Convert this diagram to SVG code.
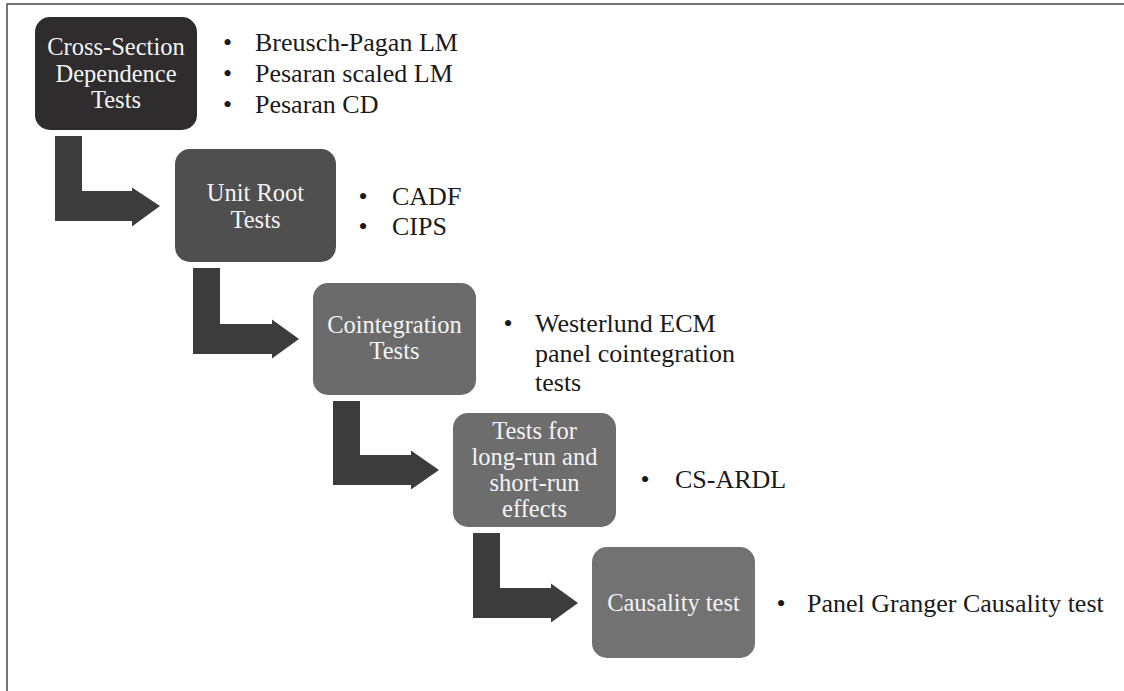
<svg xmlns="http://www.w3.org/2000/svg" width="1124" height="691" viewBox="0 0 1124 691">
<style>
text{font-family:'Liberation Serif','DejaVu Serif',serif}
.bt{font-size:24.5px;fill:#f4f4f4;text-anchor:middle}
.lt{font-size:26px;fill:#1a1a1a}
.arr{fill:#3c3c3c}
</style>
<rect x="0" y="0" width="1124" height="691" fill="#ffffff"/>
<rect x="7" y="4" width="1130" height="700" fill="none" stroke="#4a4a4a" stroke-width="1.5"/>
<g id="connectors">
<path class="arr" d="M55,136 H82 V191 H132 V187.5 L160,206 L132,226.5 V221 H55 Z"/>
<path class="arr" d="M193,268 H220 V324 H272 V319.5 L299,339 L272,358.5 V354 H193 Z"/>
<path class="arr" d="M333,401 H360 V455 H411 V450.5 L439,470 L411,489.5 V485 H333 Z"/>
<path class="arr" d="M473,533 H500 V588 H551 V583.5 L578,603 L551,622.5 V618 H473 Z"/>
</g>
<g id="node1">
<rect x="35" y="17" width="162" height="113" rx="15" fill="#2f2c2d"/>
<text class="bt" x="116" y="55" font-family="Liberation Serif">Cross-Section</text>
<text class="bt" x="116" y="81.5" font-family="Liberation Serif">Dependence</text>
<text class="bt" x="116" y="107.5" font-family="Liberation Serif">Tests</text>
</g>
<g id="list1">
<text class="lt" x="223" y="51">•</text>
<text class="lt" x="255" y="51">Breusch-Pagan LM</text>
<text class="lt" x="223" y="82">•</text>
<text class="lt" x="255" y="82">Pesaran scaled LM</text>
<text class="lt" x="223" y="113">•</text>
<text class="lt" x="255" y="113">Pesaran CD</text>
</g>
<g id="node2">
<rect x="175" y="149" width="161" height="113" rx="15" fill="#4f4f4f"/>
<text class="bt" x="255.5" y="201">Unit Root</text>
<text class="bt" x="255.5" y="227.5">Tests</text>
</g>
<g id="list2">
<text class="lt" x="358.5" y="205">•</text>
<text class="lt" x="392" y="205">CADF</text>
<text class="lt" x="358.5" y="235">•</text>
<text class="lt" x="392" y="235">CIPS</text>
</g>
<g id="node3">
<rect x="313" y="283" width="163" height="112" rx="15" fill="#6b6b6b"/>
<text class="bt" x="394.5" y="333">Cointegration</text>
<text class="bt" x="394.5" y="359">Tests</text>
</g>
<g id="list3">
<text class="lt" x="503.5" y="332">•</text>
<text class="lt" x="535" y="332">Westerlund ECM</text>
<text class="lt" x="535" y="362">panel cointegration</text>
<text class="lt" x="535" y="391">tests</text>
</g>
<g id="node4">
<rect x="453" y="413" width="163" height="114" rx="15" fill="#6d6d6d"/>
<text class="bt" x="534.5" y="439">Tests for</text>
<text class="bt" x="534.5" y="465">long-run and</text>
<text class="bt" x="534.5" y="491">short-run</text>
<text class="bt" x="534.5" y="517">effects</text>
</g>
<g id="list4">
<text class="lt" x="640.5" y="488">•</text>
<text class="lt" x="675" y="488">CS-ARDL</text>
</g>
<g id="node5">
<rect x="592" y="547" width="163" height="111" rx="15" fill="#727272"/>
<text class="bt" x="673.5" y="611">Causality test</text>
</g>
<g id="list5">
<text class="lt" x="776.5" y="612">•</text>
<text class="lt" x="807" y="612">Panel Granger Causality test</text>
</g>
</svg>
